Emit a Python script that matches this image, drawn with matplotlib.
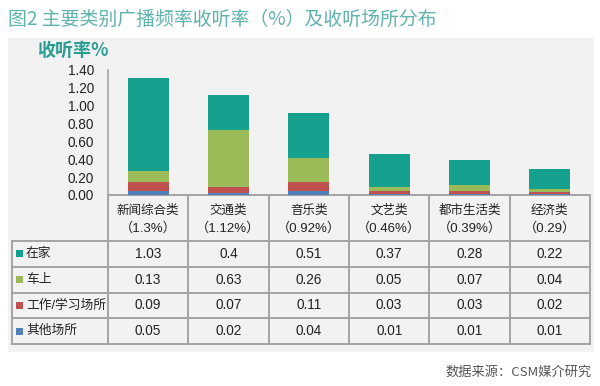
import matplotlib
matplotlib.use("Agg")
import matplotlib.pyplot as plt
from matplotlib.patches import Rectangle

plt.rcParams['font.family'] = ['Liberation Sans', 'Noto Sans CJK SC', 'DejaVu Sans']

categories = ["新闻综合类", "交通类", "音乐类", "文艺类", "都市生活类", "经济类"]
cat_rates = ["（1.3%）", "（1.12%）", "（0.92%）", "（0.46%）", "（0.39%）", "（0.29）"]
series_names = ["在家", "车上", "工作/学习场所", "其他场所"]
at_home = [1.03, 0.4, 0.51, 0.37, 0.28, 0.22]
in_car = [0.13, 0.63, 0.26, 0.05, 0.07, 0.04]
at_work = [0.09, 0.07, 0.11, 0.03, 0.03, 0.02]
other = [0.05, 0.02, 0.04, 0.01, 0.01, 0.01]
series_values = [at_home, in_car, at_work, other]
colors = ["#16a08e", "#9bbb59", "#c0504d", "#4f81bd"]
yticks = [0.0, 0.2, 0.4, 0.6, 0.8, 1.0, 1.2, 1.4]

W, H = 600, 386
fig = plt.figure(figsize=(W / 100, H / 100), dpi=100)
fig.patch.set_facecolor("white")

# background overlay axes in pixel coords
bg = fig.add_axes([0, 0, 1, 1])
bg.set_xlim(0, W)
bg.set_ylim(H, 0)
bg.axis("off")
bg.add_patch(Rectangle((8, 38), 586, 314, facecolor="#f2f2f2", edgecolor="none", zorder=0))

bg.text(8, 19, "图2 主要类别广播频率收听率（%）及收听场所分布", fontsize=13.6,
        color="#5fb3ac", ha="left", va="center", family=["Noto Sans CJK SC"],
        fontweight="light")
bg.text(37, 50, "收听率%", fontsize=13, color="#2a9d93", ha="left", va="center",
        fontweight="bold", family=["Noto Sans CJK SC", "Liberation Sans"])
bg.text(592, 372, "数据来源：CSM媒介研究", fontsize=9.5, color="#555555",
        ha="right", va="center", family=["Noto Sans CJK SC", "Liberation Sans"])

# bar chart axes
ax_left, ax_right, ax_top, ax_bot = 108, 590, 69.5, 195
ax = fig.add_axes([ax_left / W, 1 - ax_bot / H, (ax_right - ax_left) / W, (ax_bot - ax_top) / H])
ax.set_facecolor("none")
x = list(range(len(categories)))
order = [3, 2, 1, 0]  # bottom to top: other, work, car, home
bottom = [0.0] * len(categories)
for si in order:
    vals = series_values[si]
    ax.bar(x, vals, width=0.51, bottom=bottom, color=colors[si], zorder=3)
    bottom = [b + v for b, v in zip(bottom, vals)]
ax.set_xlim(-0.5, len(categories) - 0.5)
ax.set_ylim(0, 1.4)
ax.set_yticks(yticks)
ax.set_yticklabels([f"{t:.2f}" for t in yticks], fontsize=9.8, color="#222222")
ax.tick_params(axis="y", length=0, pad=10)
ax.set_xticks([])
for s in ["top", "right", "bottom"]:
    ax.spines[s].set_visible(False)
ax.spines["left"].set_color("#a6a6a6")
ax.spines["left"].set_linewidth(1.2)

# table
col_w = (ax_right - ax_left) / len(categories)
tbl_left = 12
header_top, header_bot = 195, 241
row_h = (344 - 241) / 4
lc = "#a3a3a3"
lw = 1.4
bg.plot([ax_left, ax_right], [header_top, header_top], color=lc, lw=lw)
for i in range(len(categories) + 1):
    xx = ax_left + i * col_w
    bg.plot([xx, xx], [header_top, 344], color=lc, lw=lw)
bg.plot([tbl_left, tbl_left], [header_bot, 344], color=lc, lw=lw)
for r in range(5):
    yy = header_bot + r * row_h
    bg.plot([tbl_left, ax_right], [yy, yy], color=lc, lw=lw)

for i, (c, rt) in enumerate(zip(categories, cat_rates)):
    cx = ax_left + (i + 0.5) * col_w
    bg.text(cx, 210, c, fontsize=9, ha="center", va="center", color="#222222",
            family=["Noto Sans CJK SC"])
    bg.text(cx, 228.5, rt, fontsize=9.5, ha="center", va="center", color="#222222")

for r, (name, vals) in enumerate(zip(series_names, series_values)):
    cy = header_bot + (r + 0.5) * row_h
    bg.add_patch(Rectangle((16, cy - 3.5), 7, 7, facecolor=colors[r], edgecolor="none"))
    bg.text(26, cy, name, fontsize=9.2, ha="left", va="center", color="#222222")
    for i, v in enumerate(vals):
        cx = ax_left + (i + 0.5) * col_w
        bg.text(cx, cy, f"{v:g}", fontsize=9.8, ha="center", va="center", color="#222222")

fig.savefig("out.png", dpi=100, facecolor="white")
